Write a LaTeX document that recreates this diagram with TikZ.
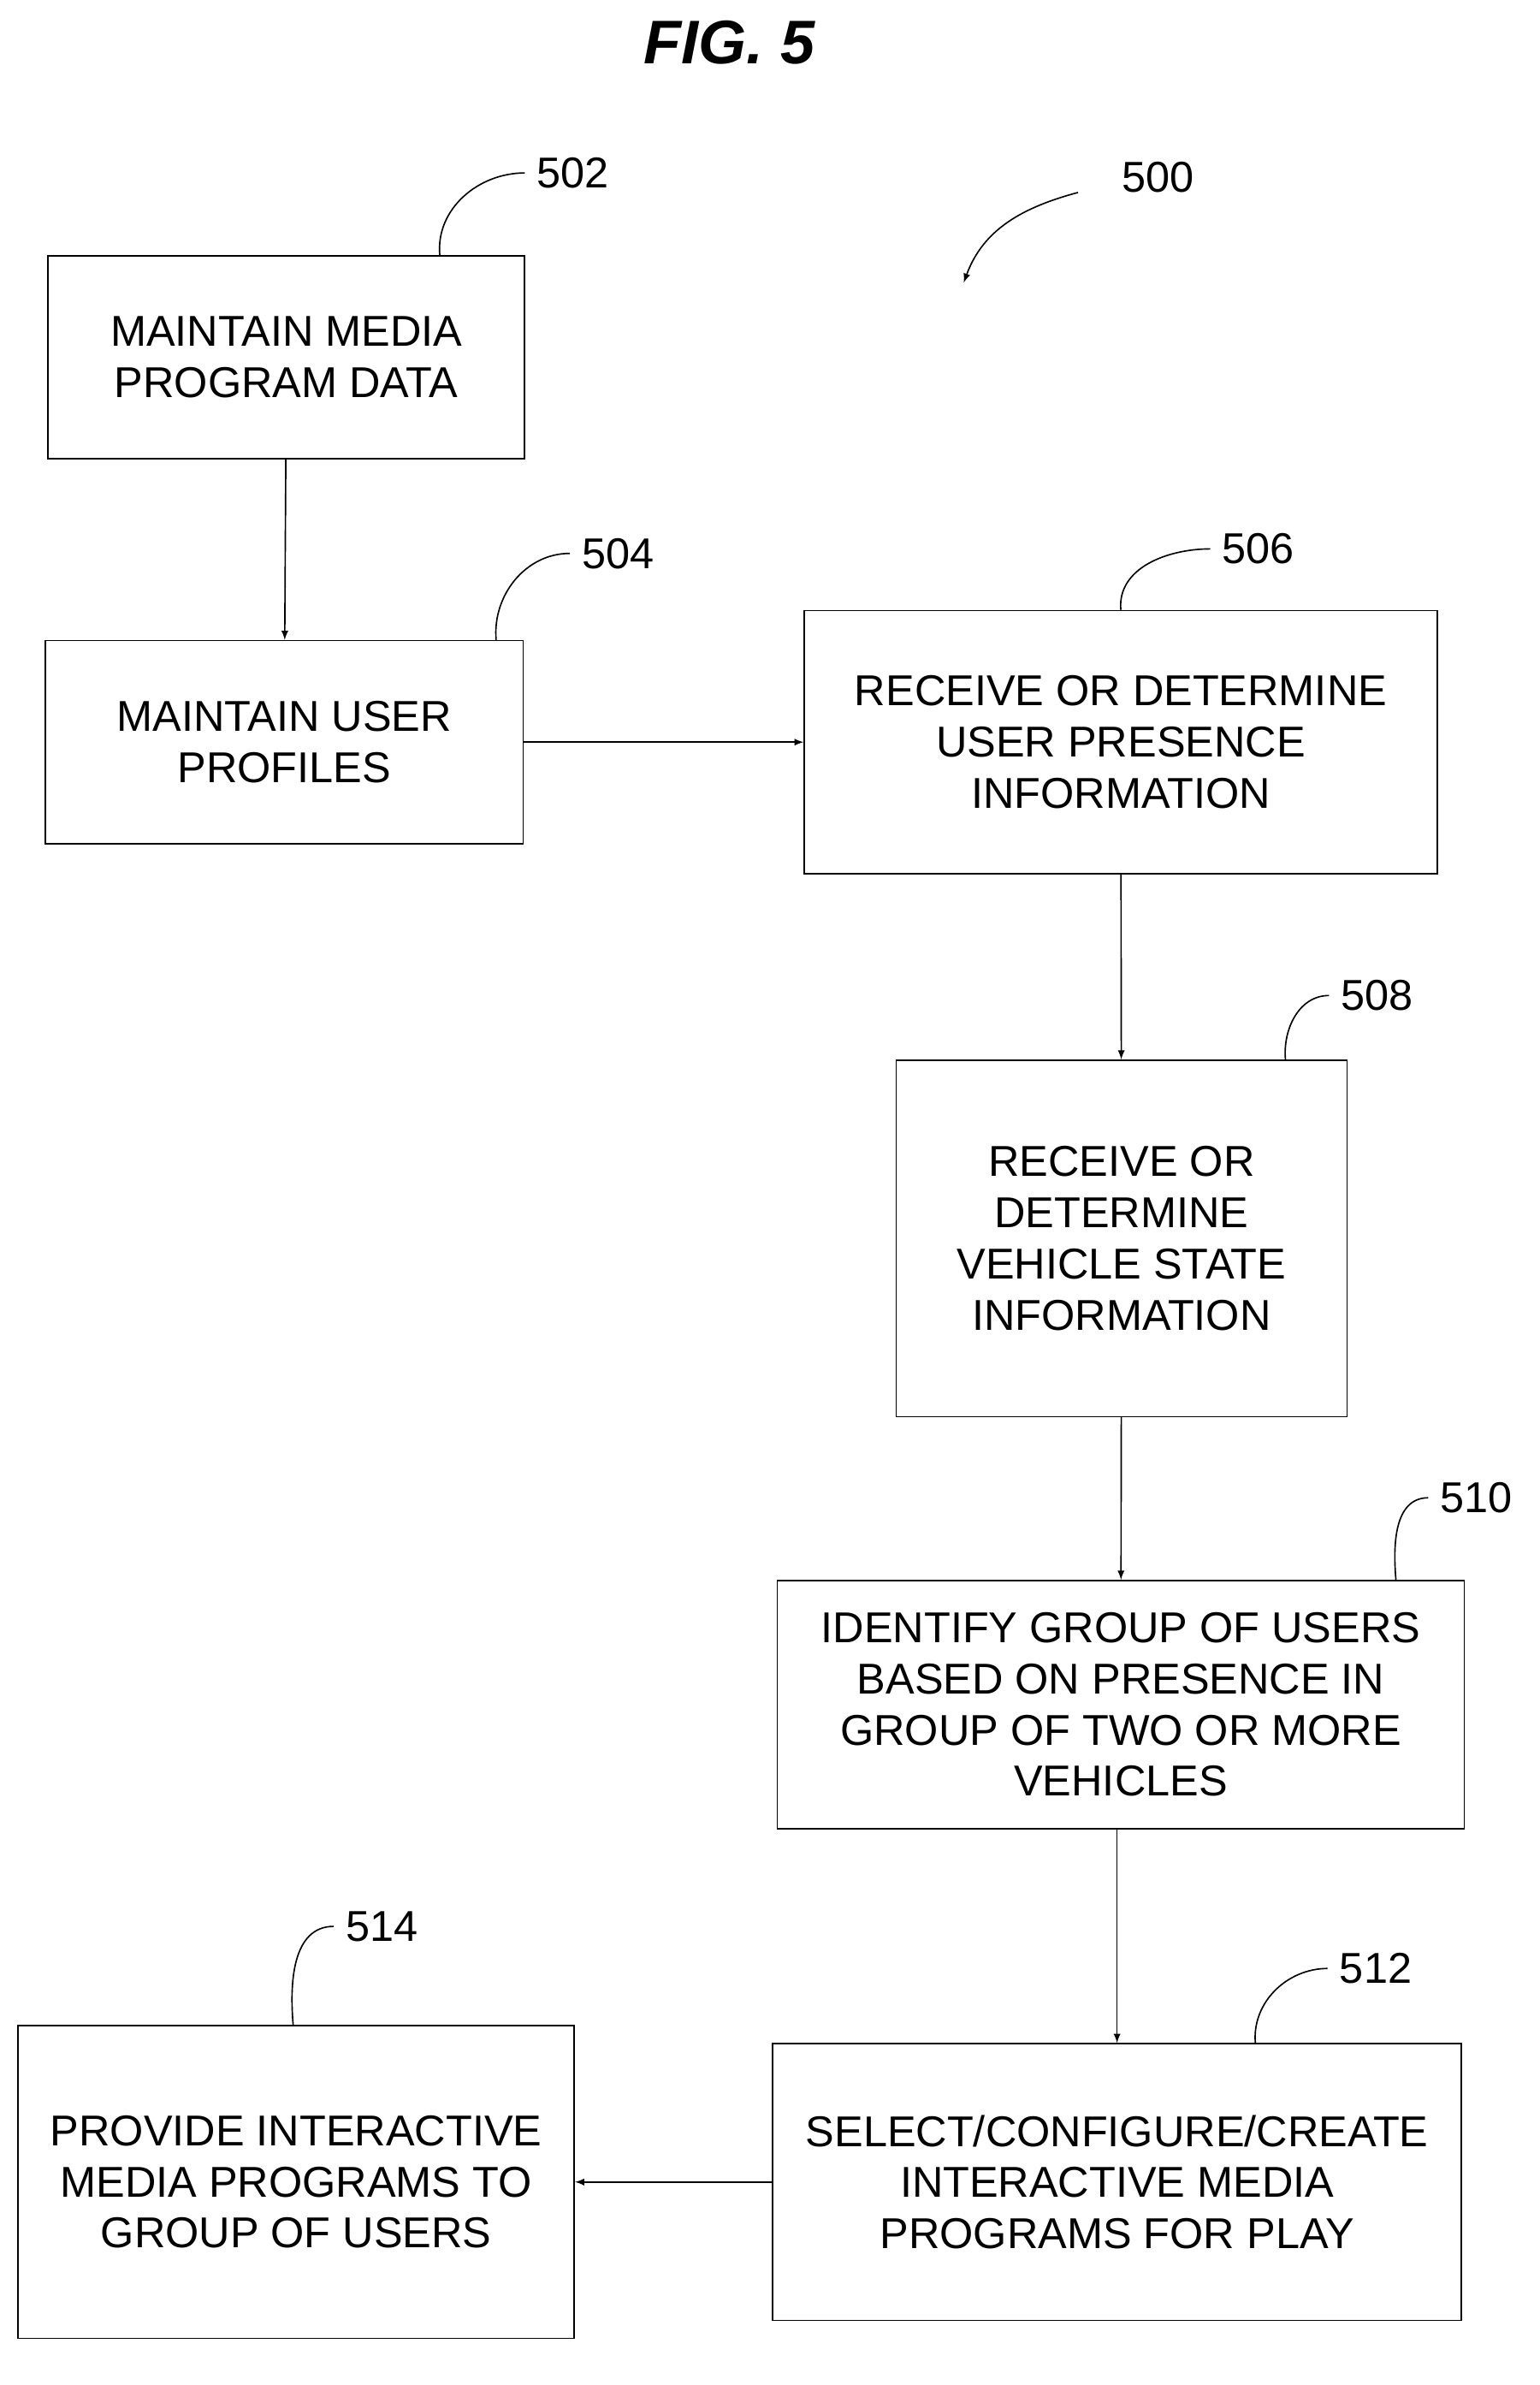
\documentclass[tikz,border=0pt]{standalone}
\usepackage{fontspec}
\setmainfont{Liberation Sans}
\usetikzlibrary{arrows,positioning}
\begin{document}
\begin{tikzpicture}
  [x=0.03cm,y=-0.03cm,
 flowbox/.style={
  rectangle,
  thick,
 draw=black,
  align=center,
  inner sep=0pt,
 font=\fontsize{24.5}{29}\selectfont},
 num/.style={font=\fontsize{24.5}{29}\selectfont, anchor=west},
 tip/.style={->,>=latex,thick}]
\useasboundingbox (0,0) rectangle (1024,1586);
\node (title) at (485,28) {\fontsize{35}{40}\selectfont\bfseries\itshape FIG. 5};
\node (b502) [flowbox, minimum width=317*0.03cm, minimum height=135*0.03cm] at (190.5,237.5) {MAINTAIN MEDIA\\PROGRAM DATA};
\node (b504) [flowbox, minimum width=318*0.03cm, minimum height=135*0.03cm] at (189,493.5) {MAINTAIN USER\\PROFILES};
\node (b506) [flowbox, minimum width=421*0.03cm, minimum height=175*0.03cm] at (745.5,493.5) {RECEIVE OR DETERMINE\\USER PRESENCE\\INFORMATION};
\node (b508) [flowbox, minimum width=300*0.03cm, minimum height=237*0.03cm] at (746,823.5) {RECEIVE OR\\DETERMINE\\VEHICLE STATE\\INFORMATION};
\node (b510) [flowbox, minimum width=457*0.03cm, minimum height=165*0.03cm] at (745.5,1133.5) {IDENTIFY GROUP OF USERS\\BASED ON PRESENCE IN\\GROUP OF TWO OR MORE\\VEHICLES};
\node (b512) [flowbox, minimum width=458*0.03cm, minimum height=184*0.03cm] at (743,1451) {SELECT/CONFIGURE/CREATE\\INTERACTIVE MEDIA\\PROGRAMS FOR PLAY};
\node (b514) [flowbox, minimum width=370*0.03cm, minimum height=208*0.03cm] at (197,1451) {PROVIDE INTERACTIVE\\MEDIA PROGRAMS TO\\GROUP OF USERS};
% reference numbers
\node (n500) [num] at (742,118) {500};
\node (n502) [num] at (353,115) {502};
\node (n504) [num] at (383,368) {504};
\node (n506) [num] at (809,365) {506};
\node (n508) [num] at (888,662) {508};
\node (n510) [num] at (954,996) {510};
\node (n512) [num] at (887,1309) {512};
\node (n514) [num] at (226,1281) {514};
\draw[thick] ([xshift=102*0.03cm]b502.north) to[out=95,in=180] ([xshift=-4*0.03cm]n502.west);
\draw[thick] ([xshift=141*0.03cm]b504.north) to[out=95,in=180] ([xshift=-4*0.03cm]n504.west);
\draw[thick] ([xshift=0]b506.north) to[out=95,in=180] ([xshift=-4*0.03cm]n506.west);
\draw[thick] ([xshift=109*0.03cm]b508.north) to[out=95,in=180] ([xshift=-4*0.03cm]n508.west);
\draw[thick] ([xshift=183*0.03cm]b510.north) to[out=95,in=180] ([xshift=-4*0.03cm]n510.west);
\draw[thick] ([xshift=92*0.03cm]b512.north) to[out=95,in=180] ([xshift=-4*0.03cm]n512.west);
\draw[thick] ([xshift=-2*0.03cm]b514.north) to[out=95,in=180] ([xshift=-4*0.03cm]n514.west);
\coordinate (c500) at (641,188);
\draw[tip] ([xshift=-25*0.03cm,yshift=-10*0.03cm]n500.west) to[out=195,in=70] (c500);
% flow
\draw[tip] (b502) -- (b504);
\draw[tip] (b504) -- (b506);
\draw[tip] (b506) -- (b508);
\draw[tip] (b508) -- (b510);
\draw[tip] (b510.south -| b512.north) -- (b512);
\draw[tip] (b512) -- (b514);
\end{tikzpicture}
\end{document}
